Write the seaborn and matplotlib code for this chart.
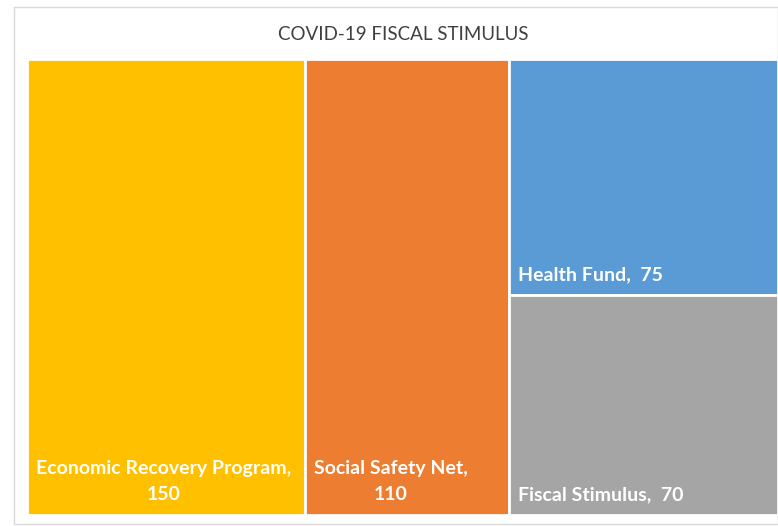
import matplotlib
matplotlib.use("Agg")
import matplotlib.pyplot as plt
from matplotlib.patches import Rectangle
import seaborn as sns

categories = ["Economic Recovery Program", "Social Safety Net", "Health Fund", "Fiscal Stimulus"]
values = [150, 110, 75, 70]
colors = ["#FFC000", "#ED7D31", "#5B9BD5", "#A5A5A5"]
# treemap grouping: which categories share a column
column_groups = [[0], [1], [2, 3]]
title = "COVID-19 FISCAL STIMULUS"

sns.set_theme(style="white")
plt.rcParams["font.family"] = ["Lato", "DejaVu Sans"]

W, H = 778, 526
fig = plt.figure(figsize=(W / 100, H / 100), dpi=100)
fig.patch.set_facecolor("white")

# outer chart frame
fig.add_artist(Rectangle((14 / W, 2 / H), (W - 14) / W, (H - 9) / H,
                         transform=fig.transFigure, fill=False,
                         edgecolor="#D9D9D9", linewidth=1.0))

ax_l, ax_r, ax_t, ax_b = 27, 778, 59, 515
ax = fig.add_axes([ax_l / W, (H - ax_b) / H, (ax_r - ax_l) / W, (ax_b - ax_t) / H])
ax.set_axis_off()

total = sum(values)
px = total / (ax_r - ax_l)   # data units per pixel in x
py = 1.0 / (ax_b - ax_t)     # data units per pixel in y

x0 = 0.0
for group in column_groups:
    gsum = sum(values[i] for i in group)
    top = 1.0
    for i in group:
        h = values[i] / gsum
        y = top - h
        ax.add_patch(Rectangle((x0, y), gsum, h, facecolor=colors[i],
                               edgecolor="white", linewidth=2.0))
        label = f"{categories[i]},  {values[i]}"
        if len(categories[i]) > 12 and len(group) == 1:
            label = f"{categories[i]},\n{values[i]}"
        ax.text(x0 + 9 * px, y + 12 * py, label, ha="left", va="bottom",
                multialignment="center", color="white", fontsize=14,
                fontweight="bold", linespacing=1.65)
        top = y
    x0 += gsum

ax.set_xlim(0, total)
ax.set_ylim(0, 1)

fig.text(403 / W, 1 - 34 / H, title, ha="center", va="center", fontsize=13.5,
         color="#404040")

fig.savefig("out.png", dpi=100, facecolor="white")
